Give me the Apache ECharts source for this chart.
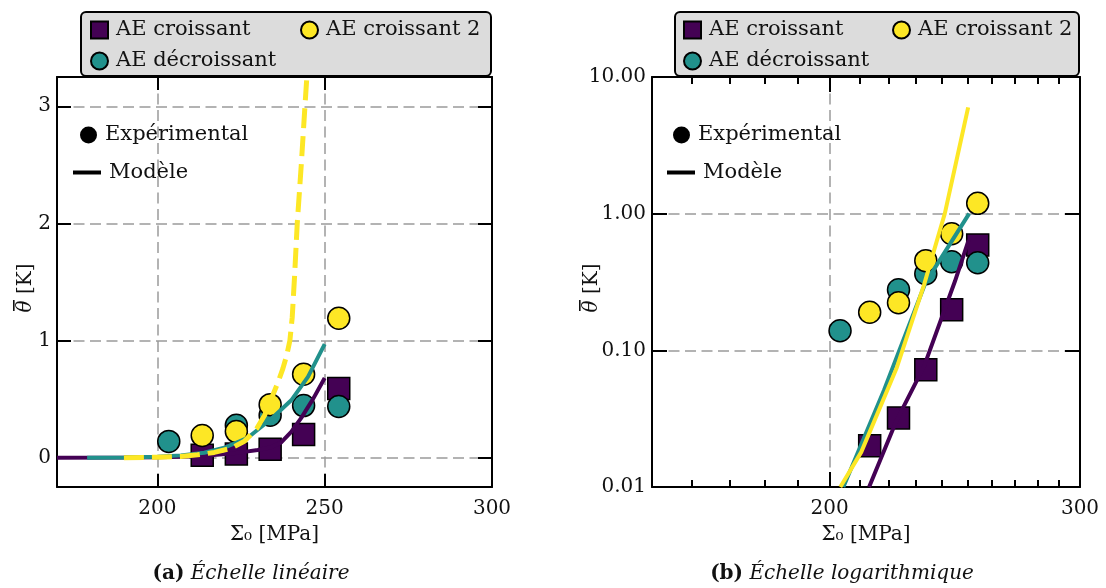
<!DOCTYPE html>
<html><head><meta charset="utf-8">
<script src="https://cdn.jsdelivr.net/npm/echarts@6/dist/echarts.min.js"></script>
<style>html,body{margin:0;padding:0;background:#fff}#c{width:1106px;height:588px}</style>
</head><body><div id="c"></div>
<script>
// ---------- data ----------
const expX_croissant   = [213.4, 223.6, 233.7, 243.7, 254.2];
const expY_croissant   = [0.020, 0.032, 0.072, 0.198, 0.59];
const expX_croissant2  = [213.4, 223.6, 233.7, 243.7, 254.2];
const expY_croissant2  = [0.19, 0.223, 0.453, 0.713, 1.19];
const expX_decroissant = [203.4, 223.6, 233.7, 243.7, 254.2];
const expY_decroissant = [0.139, 0.277, 0.363, 0.445, 0.437];

// model curves, linear panel (a)
const linModX_croissant  = [170, 190, 200, 210, 216, 222, 226, 230, 234, 237, 240, 243, 246.5, 250];
const linModY_croissant  = [0, 0.001, 0.004, 0.011, 0.02, 0.035, 0.05, 0.066, 0.09, 0.13, 0.22, 0.34, 0.5, 0.68];
const linModX_decroissant = [179, 190, 200, 207, 214, 220, 227, 234, 240, 245, 250];
const linModY_decroissant = [0, 0.002, 0.008, 0.02, 0.042, 0.085, 0.17, 0.33, 0.49, 0.69, 0.97];
const linModX_croissant2 = [190, 200, 207, 212, 217, 222, 226, 229.7, 232, 234, 236, 237.5, 238.7, 239.6, 240.3, 241.0, 241.8, 243, 244.1, 245];
const linModY_croissant2 = [0, 0.004, 0.011, 0.025, 0.045, 0.08, 0.14, 0.25, 0.36, 0.5, 0.64, 0.76, 0.88, 1.0, 1.2, 1.55, 2.0, 2.5, 3.0, 3.4];

// model curves, logarithmic panel (b)
const logModX_croissant  = [213.2, 223.0, 233.0, 245.0, 250.5];
const logModY_croissant  = [0.01, 0.031, 0.076, 0.32, 0.64];
const logModX_decroissant = [204.5, 218.4, 233.5, 250.7];
const logModY_decroissant = [0.01, 0.051, 0.31, 1.0];
const logModX_croissant2 = [203.5, 210.5, 223.0, 233.0, 241.0, 245.5, 250.3];
const logModY_croissant2 = [0.01, 0.018, 0.075, 0.3, 1.0, 2.4, 6.0];

// tick labels
const linXTicks = [200, 250, 300];
const linYTicks = [0, 1, 2, 3];
const logXMajor = [200, 300];
const logXMinor = [160, 170, 180, 190, 210, 220, 230, 240, 250, 260, 270, 280, 290];
const logYTicks = [0.01, 0.1, 1, 10];

// ---------- chart ----------
const pairs = (xs, ys) => xs.map((x, i) => [x, ys[i]]);
const FONT = 'DejaVu Serif';
const TXT = '#111';
const C_PURPLE = '#440154', C_TEAL = '#21918c', C_YELLOW = '#fde725';
const axisLine = {show: true, onZero: false, lineStyle: {color: '#000', width: 2}};
const noLine = {show: false, onZero: false};
const gridLine = {show: true, lineStyle: {color: '#9a9a9a', width: 1.5, type: [11, 5.5]}};
const tickStyle = {color: '#000', width: 2};
const labelFont = {fontFamily: FONT, fontSize: 20, color: TXT};
const LX0 = Math.log10(150), LX1 = Math.log10(300);
const toLog = a => a.map(v => Math.log10(v));

const xName = {
  name: 'Σ₀ [MPa]', nameLocation: 'middle', nameGap: 38,
  nameTextStyle: {fontFamily: FONT, fontSize: 20, color: TXT}
};

// rotated y-axis title "θ̄ [K]" (θ in italic with an overbar)
function yTitle(cx, cy) {
  return {
    type: 'group', x: cx, y: cy, rotation: Math.PI / 2, z: 10,
    children: [
      {type: 'text', x: 0, y: 0,
       style: {text: '{t|θ} [K]', align: 'center', verticalAlign: 'middle',
               font: '20px "DejaVu Serif"', fill: TXT,
               rich: {t: {fontFamily: FONT, fontSize: 20, fontStyle: 'italic', fill: TXT}}}},
      {type: 'rect', shape: {x: -23, y: -13, width: 11, height: 1.6}, style: {fill: TXT}}
    ]
  };
}

const scatterStyle = (color) => ({color: color, borderColor: '#000', borderWidth: 1.5, opacity: 1});

function panelSeries(xi, yi, mod) {
  return [
    {name: 'AE croissant', type: 'scatter', xAxisIndex: xi, yAxisIndex: yi, symbol: 'rect', symbolSize: 22,
     itemStyle: scatterStyle(C_PURPLE), data: pairs(expX_croissant, expY_croissant), z: 2},
    {name: 'AE décroissant', type: 'scatter', xAxisIndex: xi, yAxisIndex: yi, symbol: 'circle', symbolSize: 22,
     itemStyle: scatterStyle(C_TEAL), data: pairs(expX_decroissant, expY_decroissant), z: 2},
    {name: 'AE croissant 2', type: 'scatter', xAxisIndex: xi, yAxisIndex: yi, symbol: 'circle', symbolSize: 22,
     itemStyle: scatterStyle(C_YELLOW), data: pairs(expX_croissant2, expY_croissant2), z: 2},
    {name: 'modèle croissant', type: 'line', xAxisIndex: xi, yAxisIndex: yi, symbol: 'none', clip: true,
     lineStyle: {color: C_PURPLE, width: 4}, data: mod[0], z: 3},
    {name: 'modèle décroissant', type: 'line', xAxisIndex: xi, yAxisIndex: yi, symbol: 'none', clip: true,
     lineStyle: {color: C_TEAL, width: 4}, data: mod[1], z: 3},
    {name: 'modèle croissant 2', type: 'line', xAxisIndex: xi, yAxisIndex: yi, symbol: 'none', clip: true,
     lineStyle: mod[3] ? {color: C_YELLOW, width: 5, type: [20, 8]} : {color: C_YELLOW, width: 4},
     data: mod[2], z: 3}
  ];
}

const series = [].concat(
  panelSeries(0, 0, [pairs(linModX_croissant, linModY_croissant),
                     pairs(linModX_decroissant, linModY_decroissant),
                     pairs(linModX_croissant2, linModY_croissant2), true]),
  panelSeries(2, 2, [pairs(logModX_croissant, logModY_croissant),
                     pairs(logModX_decroissant, logModY_decroissant),
                     pairs(logModX_croissant2, logModY_croissant2), false]),
  [
    {name: 'Expérimental', type: 'scatter', xAxisIndex: 0, yAxisIndex: 0, symbol: 'circle', symbolSize: 17,
     itemStyle: {color: '#000', opacity: 1}, data: []},
    {name: 'Modèle', type: 'line', xAxisIndex: 0, yAxisIndex: 0, symbol: 'none',
     lineStyle: {color: '#000', width: 4}, itemStyle: {color: '#000'}, data: []}
  ]
);

const legBase = {
  orient: 'horizontal', padding: 0, itemWidth: 17, itemHeight: 17, selectedMode: false, z: 10,
  textStyle: {fontFamily: FONT, fontSize: 21, color: TXT, padding: [0, 0, 0, 3]}
};
const leg = (item, left, top, extra) => Object.assign({}, legBase, {data: [item], left: left, top: top}, extra || {});
const expItem = {name: 'Expérimental', icon: 'circle', itemStyle: {color: '#000', opacity: 1, borderWidth: 0}};
const modItem = {name: 'Modèle', icon: 'rect', itemStyle: {color: '#000', opacity: 1, borderWidth: 0}};

const option = {
  animation: false,
  backgroundColor: '#fff',
  grid: [
    {left: 57, top: 77, right: 614, bottom: 101},
    {left: 652, top: 77, right: 26, bottom: 101}
  ],
  xAxis: [
    Object.assign({gridIndex: 0, type: 'value', min: 170, max: 300, position: 'bottom', axisLine: axisLine,
      axisTick: {show: true, inside: true, length: 13, lineStyle: tickStyle, customValues: linXTicks},
      axisLabel: Object.assign({customValues: linXTicks, margin: 12}, labelFont),
      splitLine: gridLine}, xName),
    {gridIndex: 0, type: 'value', min: 170, max: 300, position: 'top', axisLine: axisLine,
      axisTick: {show: true, inside: true, length: 13, lineStyle: tickStyle, customValues: linXTicks},
      axisLabel: {show: false}, splitLine: {show: false}},
    // data axis (log) for panel b
    {gridIndex: 1, type: 'log', logBase: 10, min: 150, max: 300, position: 'bottom', axisLine: axisLine,
      axisTick: {show: false}, axisLabel: {show: false}, splitLine: {show: false}},
    // major ticks / labels / grid (decorative overlay in log10 space)
    Object.assign({gridIndex: 1, type: 'value', min: LX0, max: LX1, position: 'bottom', axisLine: noLine,
      axisTick: {show: true, inside: true, length: 15, lineStyle: tickStyle, customValues: toLog(logXMajor)},
      axisLabel: Object.assign({customValues: toLog(logXMajor), margin: 12,
        formatter: v => String(Math.round(Math.pow(10, v)))}, labelFont),
      splitLine: gridLine}, xName),
    {gridIndex: 1, type: 'value', min: LX0, max: LX1, position: 'bottom', axisLine: noLine,
      axisTick: {show: true, inside: true, length: 7, lineStyle: tickStyle, customValues: toLog(logXMinor)},
      axisLabel: {show: false}, splitLine: {show: false}},
    {gridIndex: 1, type: 'value', min: LX0, max: LX1, position: 'top', axisLine: axisLine,
      axisTick: {show: true, inside: true, length: 15, lineStyle: tickStyle, customValues: toLog(logXMajor)},
      axisLabel: {show: false}, splitLine: {show: false}},
    {gridIndex: 1, type: 'value', min: LX0, max: LX1, position: 'top', axisLine: noLine,
      axisTick: {show: true, inside: true, length: 7, lineStyle: tickStyle, customValues: toLog(logXMinor)},
      axisLabel: {show: false}, splitLine: {show: false}}
  ],
  yAxis: [
    {gridIndex: 0, type: 'value', min: -0.25, max: 3.25, position: 'left', axisLine: axisLine,
      axisTick: {show: true, inside: true, length: 14, lineStyle: tickStyle, customValues: linYTicks},
      axisLabel: Object.assign({customValues: linYTicks, margin: 6}, labelFont),
      splitLine: gridLine},
    {gridIndex: 0, type: 'value', min: -0.25, max: 3.25, position: 'right', axisLine: axisLine,
      axisTick: {show: true, inside: true, length: 14, lineStyle: tickStyle, customValues: linYTicks},
      axisLabel: {show: false}, splitLine: {show: false}},
    {gridIndex: 1, type: 'log', logBase: 10, min: logYTicks[0], max: logYTicks[logYTicks.length - 1],
      position: 'left', axisLine: axisLine,
      axisTick: {show: true, inside: true, length: 15, lineStyle: tickStyle},
      axisLabel: Object.assign({margin: 6, formatter: v => Number(v).toFixed(2)}, labelFont),
      splitLine: gridLine},
    {gridIndex: 1, type: 'log', logBase: 10, min: logYTicks[0], max: logYTicks[logYTicks.length - 1],
      position: 'right', axisLine: axisLine,
      axisTick: {show: true, inside: true, length: 15, lineStyle: tickStyle},
      axisLabel: {show: false}, splitLine: {show: false}}
  ],
  title: [
    {text: '{b|(a)} {i|Échelle linéaire}', left: 251, top: 564, textAlign: 'center', padding: 0,
     textStyle: {fontFamily: FONT, fontSize: 20, color: TXT, fontWeight: 'normal',
       rich: {b: {fontFamily: FONT, fontSize: 20, fontWeight: 'bold', color: TXT},
              i: {fontFamily: FONT, fontSize: 20, fontStyle: 'italic', color: TXT}}}},
    {text: '{b|(b)} {i|Échelle logarithmique}', left: 842, top: 564, textAlign: 'center', padding: 0,
     textStyle: {fontFamily: FONT, fontSize: 20, color: TXT, fontWeight: 'normal',
       rich: {b: {fontFamily: FONT, fontSize: 20, fontWeight: 'bold', color: TXT},
              i: {fontFamily: FONT, fontSize: 20, fontStyle: 'italic', color: TXT}}}}
  ],
  graphic: [
    {type: 'rect', z: 5, shape: {x: 81, y: 12, width: 410, height: 64, r: 5},
     style: {fill: '#dcdcdc', stroke: '#000', lineWidth: 2}},
    {type: 'rect', z: 5, shape: {x: 675, y: 12, width: 404, height: 64, r: 5},
     style: {fill: '#dcdcdc', stroke: '#000', lineWidth: 2}},
    yTitle(26, 288),
    yTitle(592, 288)
  ],
  legend: [
    leg('AE croissant', 90, 19.5), leg('AE croissant 2', 300, 19.5), leg('AE décroissant', 90, 50.5),
    leg('AE croissant', 683, 19.5), leg('AE croissant 2', 892, 19.5), leg('AE décroissant', 683, 50.5),
    leg(expItem, 80, 124.5), leg(modItem, 73, 162, {itemWidth: 28, itemHeight: 4}),
    leg(expItem, 673, 124.5), leg(modItem, 667, 162, {itemWidth: 28, itemHeight: 4})
  ],
  series: series
};

const chart = echarts.init(document.getElementById('c'), null, {renderer: 'canvas'});
chart.setOption(option);
</script>
</body></html>
